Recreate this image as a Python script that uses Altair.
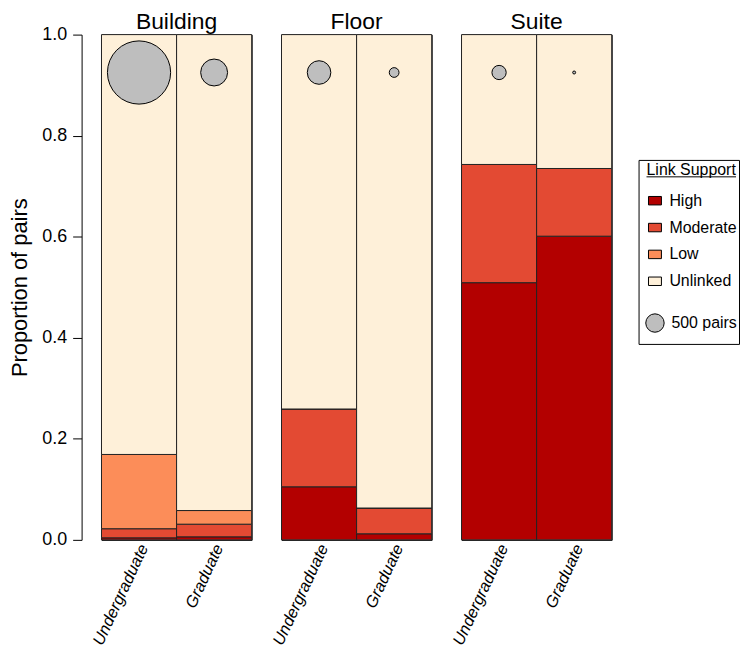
import altair as alt
import pandas as pd

FONT = "Liberation Sans"

levels = ["Building", "Floor", "Suite"]
statuses = ["Undergraduate", "Graduate"]
supports = ["High", "Moderate", "Low", "Unlinked"]
support_colors = ["#b30000", "#e34a33", "#fc8d59", "#fef0d9"]

group_level = ["Building", "Building", "Floor", "Floor", "Suite", "Suite"]
group_status = ["Undergraduate", "Graduate", "Undergraduate", "Graduate", "Undergraduate", "Graduate"]
prop_high = [0.004, 0.006, 0.105, 0.012, 0.509, 0.601]
prop_moderate = [0.018, 0.025, 0.154, 0.051, 0.234, 0.134]
prop_low = [0.147, 0.027, 0.0, 0.0, 0.0, 0.0]
prop_unlinked = [0.831, 0.942, 0.741, 0.937, 0.257, 0.265]
n_pairs = [5900, 1070, 820, 140, 300, 13]

y_ticks = [0.0, 0.2, 0.4, 0.6, 0.8, 1.0]
legend_title = "Link Support"
legend_pairs = 500
legend_pairs_label = "500 pairs"

PANEL_W = 151
PANEL_H = 508

# ---- build tables ----
rows = []
series = [prop_high, prop_moderate, prop_low, prop_unlinked]
for i in range(len(group_level)):
    for k, s in enumerate(supports):
        rows.append({
            "level": group_level[i],
            "status": group_status[i],
            "support": s,
            "rank": k,
            "prop": series[k][i],
            "pairs": n_pairs[i],
        })
df = pd.DataFrame(rows)

legend_items = [legend_title] + supports + [legend_pairs_label]
ldf = pd.DataFrame({
    "item": legend_items,
    "pairs": [0] * (len(legend_items) - 1) + [legend_pairs],
})

# Vega circle: diameter = sqrt(size); area proportional to pairs
size_scale = alt.Scale(type="linear", domain=[0, 6000], range=[0, 4107])
color_scale = alt.Scale(domain=supports, range=support_colors)
y_scale = alt.Scale(domain=[0, 1], nice=False)

x_axis = alt.Axis(title=None, labelAngle=295, labelAlign="right",
                  labelBaseline="middle", labelFontSize=16.5,
                  labelFontStyle="italic", labelFont=FONT,
                  labelColor="black", ticks=False, tickSize=0,
                  domain=False, labelPadding=5, labelOffset=5)
y_axis = alt.Axis(title="Proportion of pairs", values=y_ticks,
                  format=".1f", grid=False, offset=20, tickSize=9,
                  labelPadding=6, labelFontSize=18, labelFont=FONT,
                  titleFontSize=22, titleFont=FONT,
                  titleFontWeight="normal", titlePadding=10,
                  domainColor="black", tickColor="black",
                  labelColor="black", titleColor="black")


def panel(level, first):
    base = alt.Chart(df).transform_filter(alt.datum.level == level)
    bars = base.mark_bar(stroke="#222222", strokeWidth=1).encode(
        x=alt.X("status:N", sort=statuses,
                scale=alt.Scale(paddingInner=0, paddingOuter=0), axis=x_axis),
        y=alt.Y("prop:Q", stack="zero", scale=y_scale,
                axis=y_axis if first else None),
        color=alt.Color("support:N", scale=color_scale, legend=None),
        order=alt.Order("rank:Q", sort="ascending"),
    )
    circles = base.transform_filter(alt.datum.support == "High").mark_circle(
        color="#bebebe", stroke="black", strokeWidth=1, opacity=1
    ).encode(
        x=alt.X("status:N", sort=statuses),
        y=alt.datum(0.925),
        size=alt.Size("pairs:Q", scale=size_scale, legend=None),
    )
    title = alt.Chart(pd.DataFrame({"level": [level]})).mark_text(
        fontSize=23, font=FONT, color="black", align="center",
        baseline="alphabetic"
    ).encode(x=alt.value(PANEL_W / 2), y=alt.value(-6), text="level:N")
    return alt.layer(bars, circles, title).properties(
        width=PANEL_W, height=PANEL_H
    )


panels = alt.hconcat(
    *[panel(lv, i == 0) for i, lv in enumerate(levels)],
    spacing=30, bounds="flush",
)

# ---- legend ----
ly = alt.Y("item:N", sort=legend_items,
           scale=alt.Scale(type="point", domain=legend_items, padding=0.926, align=0.28),
           axis=None)
lbase = alt.Chart(ldf).encode(y=ly)

l_title = lbase.transform_filter(alt.datum.item == legend_title).mark_text(
    fontSize=16, font=FONT, align="left", baseline="middle", color="black", yOffset=-4
).encode(x=alt.value(8), text="item:N")

l_underline = lbase.transform_filter(alt.datum.item == legend_title).mark_rule(
    color="black", strokeWidth=1, yOffset=3
).encode(x=alt.value(8), x2=alt.value(98))

l_squares = lbase.transform_filter(
    alt.FieldOneOfPredicate(field="item", oneOf=supports)
).mark_point(
    shape="M-1,-0.654L1,-0.654L1,0.654L-1,0.654Z", filled=True, opacity=1,
    stroke="black", strokeWidth=1, size=169
).encode(x=alt.value(16.5),
         color=alt.Color("item:N", scale=color_scale, legend=None))

l_labels = lbase.transform_filter(
    alt.FieldOneOfPredicate(field="item", oneOf=supports)
).mark_text(fontSize=16, font=FONT, align="left", baseline="middle", color="black"
).encode(x=alt.value(31), text="item:N")

l_circle = lbase.transform_filter(alt.datum.item == legend_pairs_label).mark_circle(
    color="#bebebe", stroke="black", strokeWidth=1, opacity=1, yOffset=15
).encode(x=alt.value(16.5),
         size=alt.Size("pairs:Q", scale=size_scale, legend=None))

l_circle_label = lbase.transform_filter(alt.datum.item == legend_pairs_label).mark_text(
    fontSize=16, font=FONT, align="left", baseline="middle", color="black", yOffset=15
).encode(x=alt.value(33), text="item:N")

legend = alt.layer(
    l_title, l_underline, l_squares, l_labels, l_circle, l_circle_label
).properties(width=101, height=185)

spacer = alt.Chart(pd.DataFrame({"a": [0]})).mark_point(opacity=0).encode(
    x=alt.value(0), y=alt.value(0)
).properties(width=101, height=125, view=alt.ViewBackground(stroke=None))

legend_col = alt.vconcat(spacer, legend, spacing=0)

chart = alt.hconcat(panels, legend_col, spacing=23).resolve_scale(
    color="independent"
).properties(
    padding={"left": 0, "top": 0, "right": 0, "bottom": 0}
).configure(font=FONT).configure_view(stroke="black", strokeWidth=1)

chart.save("out.html", embed_options={"renderer": "svg", "actions": False})
